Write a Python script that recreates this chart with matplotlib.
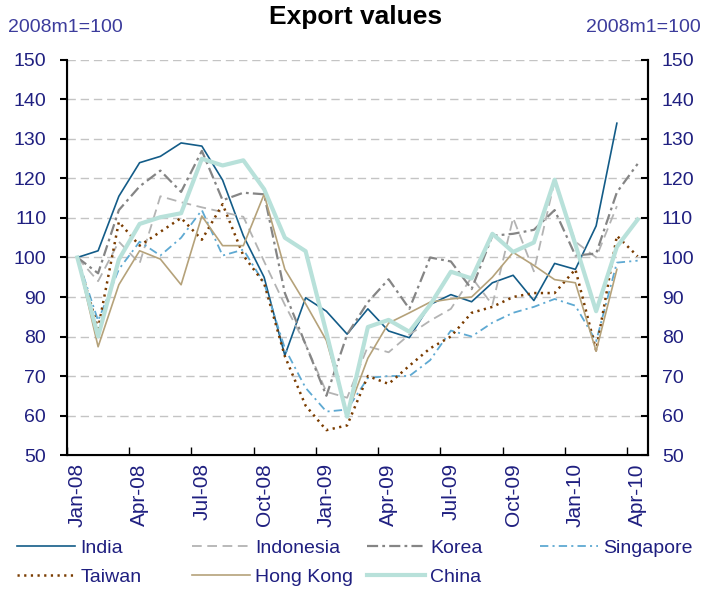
import numpy as np
import matplotlib
matplotlib.use('Agg')
import matplotlib.pyplot as plt

plt.rcParams['font.family'] = ['Liberation Sans', 'DejaVu Sans']
plt.rcParams['lines.scale_dashes'] = False

# Data (index, 2008m1 = 100), monthly Jan-08 .. Apr-10
months = ['Jan-08', 'Apr-08', 'Jul-08', 'Oct-08', 'Jan-09', 'Apr-09',
          'Jul-09', 'Oct-09', 'Jan-10', 'Apr-10']
n_months = 28

india = [100, 101.7, 115.5, 124, 125.6, 129, 128.2, 119.6, 105.5, 95, 75.2, 89.8, 86.4, 80.6,
         87, 81.4, 79.7, 88.1, 90.6, 88.8, 93.6, 95.5, 89.1, 98.5, 97, 108, 134]
indonesia = [100, 94, 104, 98.5, 115.5, 114, 112.7, 111.5, 110.3, 99, 88, 78, 66, 64.5,
             77.5, 76, 80.5, 84, 87, 95, 88, 110, 96.5, 119.4, 104, 100, 113]
korea = [100, 96, 112, 118, 122, 116.6, 127, 114.5, 116.4, 116, 91, 78, 65, 80.5,
         88.7, 94.5, 87, 100, 99, 92, 105.5, 106, 107, 112, 100.5, 101, 116.5, 123.7]
singapore = [100, 84, 97, 104, 100.5, 105, 112, 100.5, 102, 93.5, 77, 67, 61, 61.5,
             69.5, 70, 70, 74, 81.5, 80, 83.5, 86, 87.5, 89.5, 87.8, 78.8, 98.7, 99.2]
taiwan = [100, 82, 109, 103, 106.5, 110, 104.5, 113.5, 100.5, 93.5, 75, 62.5, 56.3, 57.5,
          70, 68, 72.6, 77, 80, 86, 87.5, 90, 91, 91, 97, 76.5, 105.5, 100.3]
hong_kong = [100, 77.4, 93.1, 101.7, 99.6, 93.1, 110.5, 103, 103, 116, 97, 88.3, 79, 60.5,
             74.5, 83.4, 86, 88.7, 89.5, 90, 95, 101.3, 98, 94.4, 93.6, 76.3, 97]
china = [100, 80, 99.5, 108.5, 110.2, 111.2, 125, 123.3, 124.6, 117.3, 105, 101.6, 81, 59.7,
         82.4, 84.2, 81.2, 88, 96.4, 94.7, 106, 101.4, 103.8, 119.7, 103.3, 86.4, 102.7, 109.6]

navy = '#1f1f80'

fig = plt.figure(figsize=(7.11, 5.91), dpi=100)
ax = fig.add_axes([0.0942, 0.2301, 0.8172, 0.6684])

def plot_series(vals, **kw):
    return ax.plot(np.arange(len(vals)), vals, **kw)[0]

h_india = plot_series(india, color='#135c88', lw=1.2, label='India')
h_indo = plot_series(indonesia, color='#b3b3b3', lw=1.3, dashes=(7, 4), label='Indonesia')
h_korea = plot_series(korea, color='#858585', lw=1.6, dashes=(8, 3, 2, 3), label='Korea')
h_sing = plot_series(singapore, color='#5ea9d2', lw=1.3, dashes=(6, 3, 1.5, 3), label='Singapore')
h_taiw = plot_series(taiwan, color='#7a3c00', lw=1.8, dashes=(1.6, 3.2), label='Taiwan')
h_hk = plot_series(hong_kong, color='#b5a27a', lw=1.2, label='Hong Kong')
h_china = plot_series(china, color='#b8e1da', lw=3.0, label='China')

ax.set_xlim(-0.5, n_months - 0.5)
ax.set_ylim(50, 150)
ax.set_yticks(np.arange(50, 151, 10))
ax.yaxis.grid(True, color='#c4c4c4', linestyle=(0, (6, 3.5)), lw=1.0)
ax.set_axisbelow(True)

ax.set_xticks(np.arange(0, n_months, 3))
ax.set_xticklabels(months, rotation=90, color=navy, fontsize=15)
ax.set_xticks(np.arange(-0.5, n_months, 3), minor=True)
ax.tick_params(axis='x', which='major', length=0, pad=6)
ax.tick_params(axis='x', which='minor', direction='in', length=6, width=1)
ax.tick_params(axis='y', direction='out', length=5, width=1.5, labelcolor=navy,
               labelsize=14, pad=10)

ax.spines['top'].set_visible(False)
for s in ['left', 'right', 'bottom']:
    ax.spines[s].set_linewidth(1.5)

ax2 = ax.twinx()
ax2.set_ylim(50, 150)
ax2.set_yticks(np.arange(50, 151, 10))
ax2.tick_params(axis='y', direction='in', length=5, width=1.5, labelcolor=navy,
                labelsize=14, pad=10)
ax2.spines['top'].set_visible(False)
ax2.spines['right'].set_linewidth(1.5)

fig.text(0.5, 0.971, 'Export values', ha='center', va='center', fontsize=19, weight='bold')
fig.text(0.011, 0.954, '2008m1=100', ha='left', va='center', fontsize=14, color='#3c3c9c')
fig.text(0.986, 0.954, '2008m1=100', ha='right', va='center', fontsize=14, color='#3c3c9c')

# legend: four columns of fixed positions
cols = [([h_india, h_taiw], 17), ([h_indo, h_hk], 192), ([h_korea, h_china], 367), ([h_sing], 540)]
for handles, xpix in cols:
    leg = fig.legend(handles=handles, loc='upper left',
                     bbox_to_anchor=(xpix / 711, 1 - 539 / 591),
                     frameon=False, fontsize=14, handlelength=3.0, handletextpad=0.25,
                     labelspacing=0.58, borderpad=0, borderaxespad=0)
    for t in leg.get_texts():
        t.set_color(navy)

fig.savefig('out.png', dpi=100)
